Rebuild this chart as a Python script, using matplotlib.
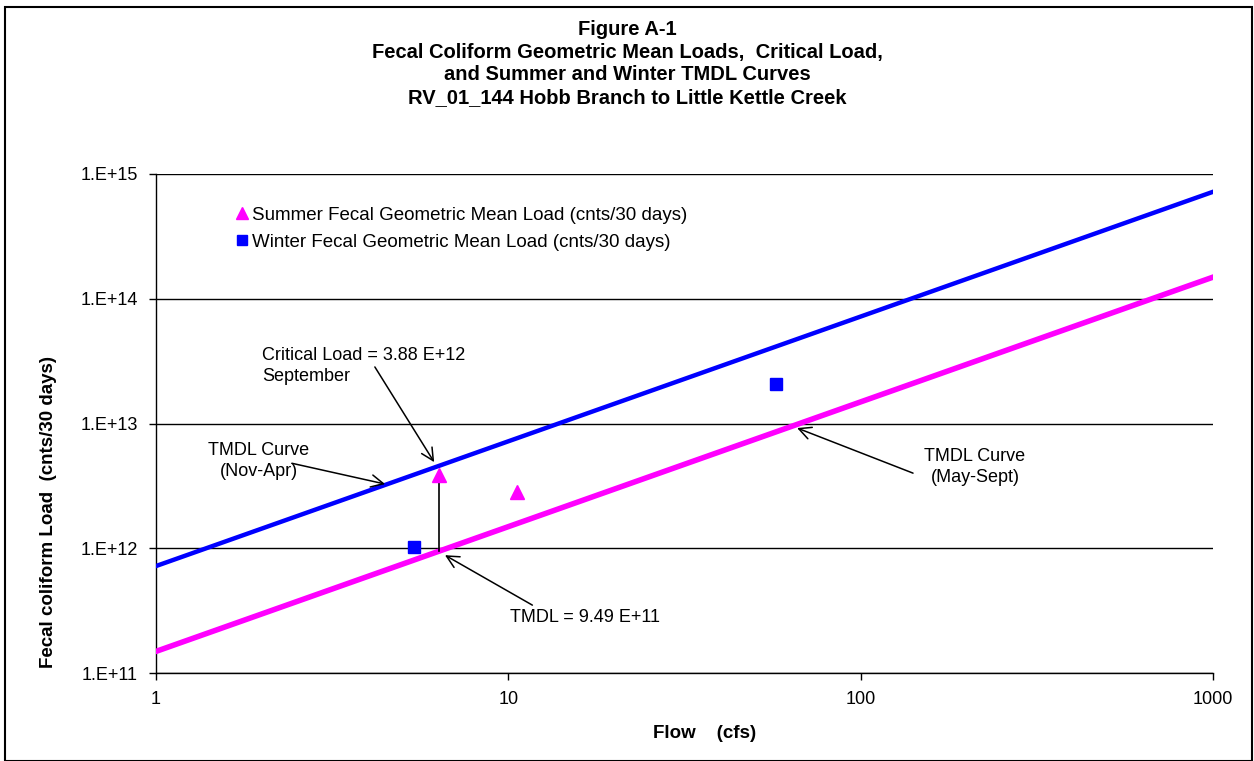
import matplotlib
matplotlib.use("Agg")
import matplotlib.pyplot as plt
from matplotlib.patches import Rectangle

plt.rcParams["font.family"] = ["Liberation Sans", "DejaVu Sans"]

# data
summer_flow = [6.36, 10.6]
summer_load = [3.88e12, 2.8e12]
winter_flow = [5.4, 57.5]
winter_load = [1.02e12, 2.07e13]

curve_flow = [1, 1000]
winter_tmdl = [7.2e11, 7.2e14]
summer_tmdl = [1.49e11, 1.49e14]

critical_flow = 6.37
critical_load = 3.88e12
tmdl_load = 9.49e11

y_ticks = [1e11, 1e12, 1e13, 1e14, 1e15]
y_tick_labels = ["1.E+11", "1.E+12", "1.E+13", "1.E+14", "1.E+15"]
x_ticks = [1, 10, 100, 1000]
x_tick_labels = ["1", "10", "100", "1000"]

title = ("Figure A-1\n"
         "Fecal Coliform Geometric Mean Loads,  Critical Load,\n"
         "and Summer and Winter TMDL Curves\n"
         "RV_01_144 Hobb Branch to Little Kettle Creek")

magenta = "#FF00FF"
blue = "#0000FF"

fig = plt.figure(figsize=(12.54, 7.61), dpi=100)
ax = fig.add_axes([156 / 1254, 88 / 761, 1057 / 1254, 499 / 761])

ax.set_xscale("log")
ax.set_yscale("log")
ax.set_xlim(1, 1000)
ax.set_ylim(1e11, 1e15)

for t in y_ticks:
    ax.axhline(t, color="black", lw=1.0, zorder=1)

ax.plot(curve_flow, winter_tmdl, color=blue, lw=3.2, zorder=3)
ax.plot(curve_flow, summer_tmdl, color=magenta, lw=4.0, zorder=3)

ax.plot(summer_flow, summer_load, "^", color=magenta, ms=10, ls="none", zorder=4,
        label="Summer Fecal Geometric Mean Load (cnts/30 days)")
ax.plot(winter_flow, winter_load, "s", color=blue, ms=9, ls="none", zorder=4,
        label="Winter Fecal Geometric Mean Load (cnts/30 days)")

# vertical line from TMDL up to the critical load
ax.plot([critical_flow, critical_flow], [tmdl_load, critical_load],
        color="black", lw=1.2, zorder=3.5)

arrow = dict(arrowstyle="->", color="black", lw=1.1, mutation_scale=22,
             shrinkA=0, shrinkB=0)
fs = 13

ax.annotate("", xy=(6.16, 4.9e12), xytext=(4.18, 2.84e13), arrowprops=arrow, zorder=6)
ax.text(2.0, 2.9e13, "Critical Load = 3.88 E+12\nSeptember", fontsize=fs,
        ha="left", va="center", linespacing=1.35)

ax.annotate("", xy=(4.47, 3.27e12), xytext=(2.43, 4.8e12), arrowprops=arrow, zorder=6)
ax.text(1.96, 5.0e12, "TMDL Curve\n(Nov-Apr)", fontsize=fs, ha="center",
        va="center", linespacing=1.35)

ax.annotate("", xy=(66, 9.2e12), xytext=(140.8, 4.0e12), arrowprops=arrow, zorder=6)
ax.text(211, 4.47e12, "TMDL Curve\n(May-Sept)", fontsize=fs, ha="center",
        va="center", linespacing=1.35)

ax.annotate("", xy=(6.61, 8.8e11), xytext=(11.7, 3.5e11), arrowprops=arrow, zorder=6)
ax.text(16.5, 2.8e11, "TMDL = 9.49 E+11", fontsize=fs, ha="center", va="center")

ax.set_xticks(x_ticks)
ax.set_xticklabels(x_tick_labels, fontsize=fs)
ax.set_yticks(y_ticks)
ax.set_yticklabels(y_tick_labels, fontsize=fs)
ax.minorticks_off()
ax.tick_params(direction="out", length=5, width=1, pad=8, color="black")

ax.spines["top"].set_visible(False)
ax.spines["right"].set_visible(False)
ax.spines["left"].set_linewidth(1)
ax.spines["bottom"].set_linewidth(1)

ax.set_xlabel("Flow    (cfs)", fontsize=13.5, fontweight="bold")
ax.xaxis.set_label_coords(0.519, -0.105)
ax.set_ylabel("Fecal coliform Load  (cnts/30 days)", fontsize=13.5,
              fontweight="bold")
ax.yaxis.set_label_coords(-0.094, 0.323)

ax.legend(loc="upper left", bbox_to_anchor=(0.07, 0.95), frameon=False,
          fontsize=13.5, handlelength=0.5, handletextpad=0.25, labelspacing=0.55,
          markerscale=0.8, borderaxespad=0)

fig.text(0.5, 1 - 20 / 761, title, ha="center", va="top", fontsize=14.5,
         fontweight="bold", linespacing=1.25)

fig.patches.append(Rectangle((5 / 1254, 0), 1247 / 1254, 754 / 761,
                             transform=fig.transFigure, fill=False,
                             edgecolor="black", lw=1.5))

fig.savefig("out.png", dpi=100)
